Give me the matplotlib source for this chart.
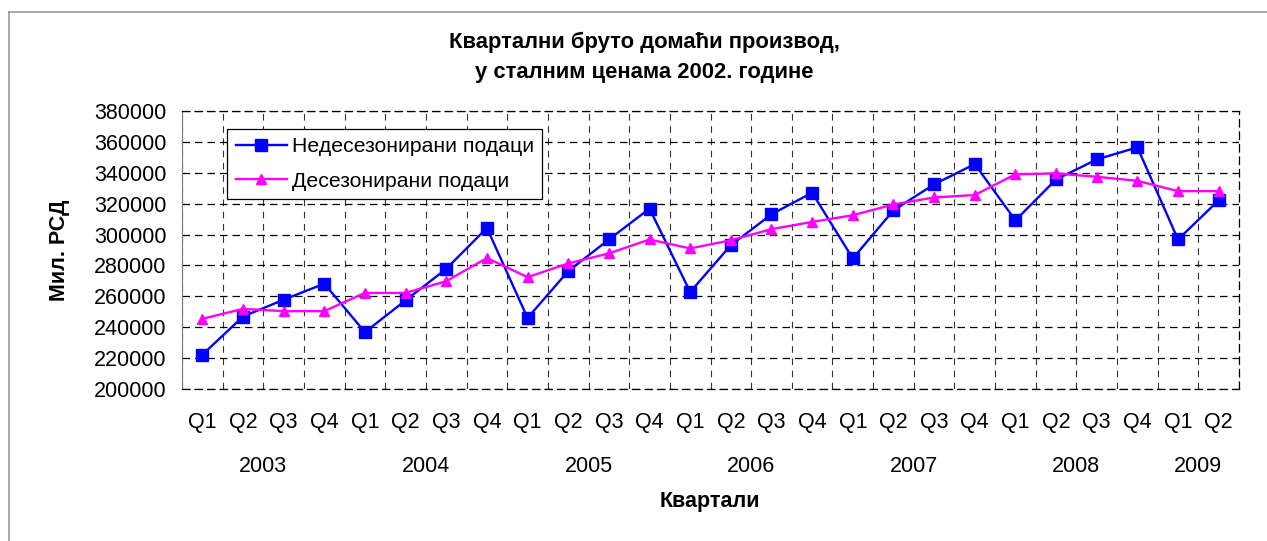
import numpy as np
import matplotlib
matplotlib.use("Agg")
import matplotlib.pyplot as plt
import matplotlib.transforms as mtransforms
from matplotlib.lines import Line2D

# ---- data ----
quarters = ["Q1", "Q2", "Q3", "Q4"] * 6 + ["Q1", "Q2"]
years = ["2003", "2004", "2005", "2006", "2007", "2008", "2009"]
year_counts = [4, 4, 4, 4, 4, 4, 2]
nonseasonal = [222200, 246900, 257800, 268200,
               236800, 257400, 277800, 304300,
               246000, 276300, 296800, 316800,
               262800, 293100, 313100, 327100,
               284500, 315700, 332500, 345600,
               309200, 335700, 348600, 356500,
               296800, 322200]
seasonal_adj = [245400, 251900, 250400, 250400,
                262200, 262200, 269800, 284800,
                272400, 281300, 287800, 296800,
                291000, 296300, 303500, 308200,
                312500, 319500, 324000, 325600,
                339000, 339600, 337400, 334800,
                328100, 328100]
series_names = ["Недесезонирани подаци", "Десезонирани подаци"]
title = "Квартални бруто домаћи производ,\nу сталним ценама 2002. године"
ylabel = "Мил. РСД"
xlabel = "Квартали"
yticks = np.arange(200000, 380001, 20000)

plt.rcParams['font.family'] = ['Liberation Sans', 'DejaVu Sans']

W, H = 1267, 541
fig = plt.figure(figsize=(W / 100, H / 100), dpi=100)
fig.patch.set_facecolor("white")

left, right, top, bottom = 182, 1239, 111, 389
ax = fig.add_axes([left / W, 1 - bottom / H, (right - left) / W, (bottom - top) / H])

x = np.arange(len(quarters))
ax.plot(x, nonseasonal, color="#0000FF", lw=1.7, marker="s", ms=8.5,
        label=series_names[0], zorder=3)
ax.plot(x, seasonal_adj, color="#FF00FF", lw=1.7, marker="^", ms=7.5,
        label=series_names[1], zorder=4)

ax.set_xlim(-0.5, len(quarters) - 0.5)
ax.set_ylim(200000, 380000)
ax.set_yticks(yticks)
ax.set_yticklabels([str(v) for v in yticks], fontsize=15.5)
ax.set_xticks(x)
ax.set_xticklabels(quarters, fontsize=15.5)
ax.set_xticks(np.arange(-0.5, len(quarters), 1), minor=True)
ax.tick_params(axis="both", which="both", length=0)
ax.tick_params(axis="x", which="major", pad=16.5)
ax.tick_params(axis="y", which="major", pad=11)

ax.grid(which="major", axis="y", color="black", lw=0.9, linestyle=(0, (6, 4)))
ax.grid(which="minor", axis="x", color="#333333", lw=0.8, linestyle=(0, (6, 5)))
for s in ax.spines.values():
    s.set_linestyle((0, (6, 4)))
    s.set_linewidth(0.9)
    s.set_color("black")
ax.spines["left"].set_linestyle("-")
ax.spines["left"].set_color("#777777")
ax.spines["left"].set_linewidth(0.8)

# year labels
trans = mtransforms.blended_transform_factory(ax.transData, fig.transFigure)
start = 0
for yr, n in zip(years, year_counts):
    cx = start + (n - 1) / 2
    ax.text(cx, 1 - 466 / H, yr, transform=trans, ha="center", va="center", fontsize=15.5)
    start += n

fig.text(710 / W, 1 - 502 / H, xlabel, ha="center", va="center", fontsize=15.5, fontweight="bold")
fig.text(60 / W, 1 - 250 / H, ylabel, ha="center", va="center", rotation=90,
         fontsize=15.5, fontweight="bold")
fig.text(644 / W, 1 - 57 / H, title, ha="center", va="center", fontsize=15.8,
         fontweight="bold", linespacing=1.55)

leg = ax.legend(loc="upper left", bbox_to_anchor=(227 / W, 1 - 129 / H),
                bbox_transform=fig.transFigure, fontsize=15.3, frameon=True,
                fancybox=False, edgecolor="black", framealpha=1,
                handlelength=2.4, borderpad=0.4, labelspacing=0.72,
                handletextpad=0.25, borderaxespad=0)
leg.get_frame().set_linewidth(0.9)

# chart area border (top and left visible)
fig.add_artist(Line2D([9 / W, 9 / W], [0, 1 - 12 / H], transform=fig.transFigure,
                      color="#999999", lw=1.2))
fig.add_artist(Line2D([9 / W, 1], [1 - 12 / H, 1 - 12 / H], transform=fig.transFigure,
                      color="#999999", lw=1.2))

fig.savefig("out.png", dpi=100, facecolor="white")
